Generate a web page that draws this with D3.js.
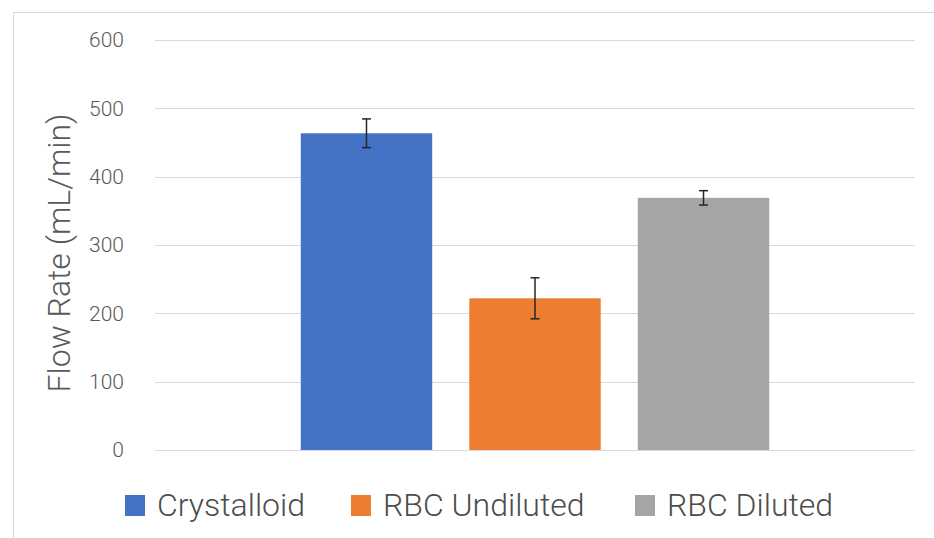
<!DOCTYPE html>
<html><head><meta charset="utf-8">
<script src="https://cdn.jsdelivr.net/npm/d3@7"></script>
<style>
html,body{margin:0;padding:0;background:#fff;}
svg{display:block;}
text{font-family:Roboto,"Open Sans",sans-serif;font-weight:300;fill:#595959;}
</style></head>
<body><svg id="c" width="934" height="538"></svg>
<script>
const series = ["Crystalloid", "RBC Undiluted", "RBC Diluted"];
const values = [463.5, 222, 369];
const errors = [21, 30, 10.5];
const colors = ["#4472C4", "#ED7D31", "#A5A5A5"];
const yTicks = [0, 100, 200, 300, 400, 500, 600];
const yTitle = "Flow Rate (mL/min)";

const svg = d3.select("#c");
// chart border
svg.append("rect").attr("x",13.5).attr("y",12.5).attr("width",1000).attr("height",1000)
  .attr("fill","none").attr("stroke","#d9d9d9").attr("stroke-width",1);

const y = d3.scaleLinear().domain([0,600]).range([450,40]);
const x = d3.scaleBand().domain(series).range([155,915]).paddingInner(0.22).paddingOuter(0.865);

// gridlines
svg.append("g").selectAll("line").data(yTicks).join("line")
  .attr("x1",155).attr("x2",915)
  .attr("y1",d=>Math.round(y(d))+0.5).attr("y2",d=>Math.round(y(d))+0.5)
  .attr("stroke","#d9d9d9").attr("stroke-width",1);

// y axis labels
const yAxis = d3.axisLeft(y).tickValues(yTicks).tickSize(0).tickPadding(0);
const ga = svg.append("g").attr("transform","translate(124,0)").call(yAxis);
ga.select(".domain").remove();
ga.selectAll("text").style("font-size","21px").style("font-weight","300")
  .attr("fill","#595959").style("font-family",'Roboto,"Open Sans",sans-serif');

// axis title
svg.append("text").attr("transform","translate(70,253) rotate(-90)")
  .attr("text-anchor","middle").style("font-size","32px").text(yTitle);

// bars
const data = series.map((s,i)=>({s, v:values[i], e:errors[i], c:colors[i]}));
svg.append("g").selectAll("rect").data(data).join("rect")
  .attr("x",d=>x(d.s)).attr("width",x.bandwidth())
  .attr("y",d=>y(d.v)).attr("height",d=>y(0)-y(d.v))
  .attr("fill",d=>d.c);

// error bars
const eg = svg.append("g").attr("stroke","#262626").attr("stroke-width",1.5);
data.forEach(d=>{
  const cx = x(d.s)+x.bandwidth()/2;
  eg.append("line").attr("x1",cx).attr("x2",cx).attr("y1",y(d.v+d.e)).attr("y2",y(d.v-d.e));
  eg.append("line").attr("x1",cx-4.5).attr("x2",cx+4.5).attr("y1",y(d.v+d.e)).attr("y2",y(d.v+d.e));
  eg.append("line").attr("x1",cx-4.5).attr("x2",cx+4.5).attr("y1",y(d.v-d.e)).attr("y2",y(d.v-d.e));
});

// legend
const legX = [125, 351, 635];
const lg = svg.append("g");
data.forEach((d,i)=>{
  lg.append("rect").attr("x",legX[i]).attr("y",495).attr("width",20).attr("height",21).attr("fill",d.c);
  lg.append("text").attr("x",legX[i]+32).attr("y",516).style("font-size","32px").attr("fill","#4d4d4d").style("fill","#4d4d4d").text(d.s);
});
</script></body></html>
